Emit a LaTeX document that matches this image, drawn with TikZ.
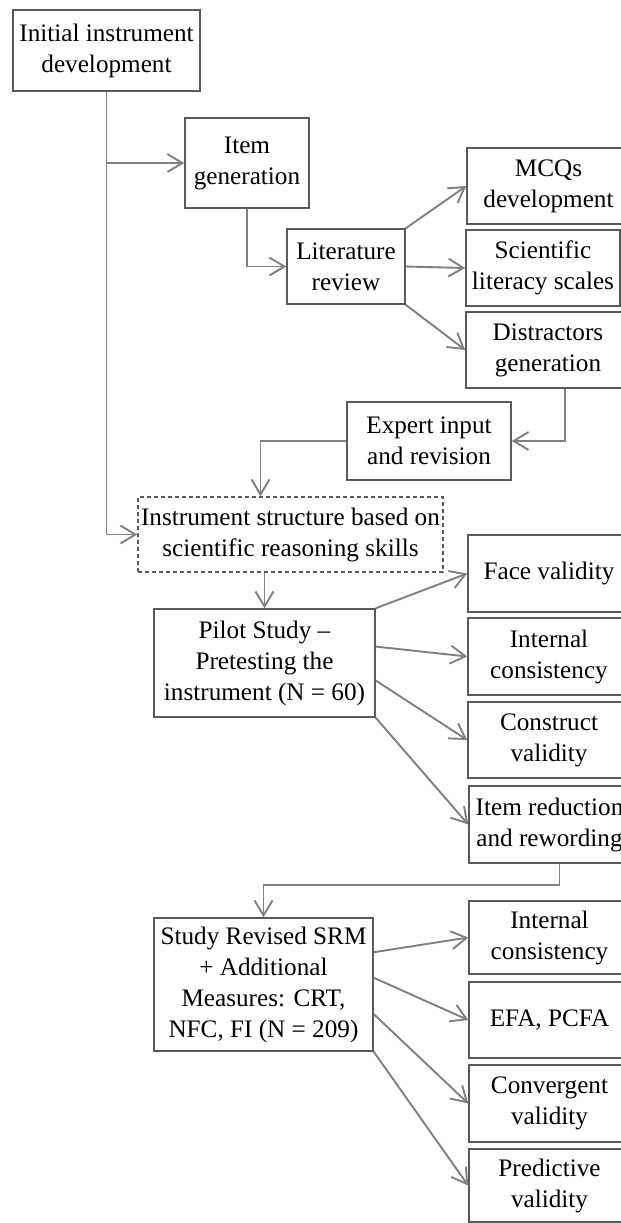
\documentclass[tikz,border=0pt]{standalone}
\usepackage{fontspec}
\setmainfont{Liberation Serif}
\usetikzlibrary{arrows.meta,calc}
\definecolor{boxgray}{HTML}{5A5A5A}
\definecolor{linegray}{HTML}{808080}
\tikzset{
  box/.style={draw=boxgray, line width=0.75pt, inner sep=0pt, align=center,
    font=\fontsize{12.6}{15.5}\selectfont},
  dashbox/.style={box, dash pattern=on 2pt off 1.5pt},
  link/.style={draw=linegray, line width=0.95pt, -{Straight Barb[length=7.5pt,width=9pt]}},
}

\begin{document}
\begin{tikzpicture}[x=0.5pt,y=-0.5pt]
\useasboundingbox (0,0) rectangle (621,1223);
%----------------development----------
\node[box, minimum width=93.5pt, minimum height=40.5pt] (init) at (106.5,50.5) {Initial instrument\\development};
\node[box, minimum width=62pt, minimum height=45pt] (item) at (247,163) {Item\\generation};
\node[box, minimum width=59pt, minimum height=37.5pt] (lit) at (346,266.5) {Literature\\review};
\node[box, minimum width=81.5pt, minimum height=38pt] (mcq) at (548.5,186) {MCQs\\development};
\node[box, minimum width=77pt, minimum height=38pt] (sci) at (543,268) {Scientific\\literacy scales};
\node[box, minimum width=82pt, minimum height=38pt] (dist) at (548,350) {Distractors\\generation};
\node[box, minimum width=82pt, minimum height=39pt] (exp) at (429,441) {Expert input\\and revision};
\node[dashbox, minimum width=152.5pt, minimum height=37.5pt] (struct) at (290.5,534.5) {Instrument structure based on\\scientific reasoning skills};
%----------------pilot----------
\node[box, minimum width=110.5pt, minimum height=54pt] (pilot) at (264.5,663) {Pilot Study --\\Pretesting the\\instrument (N = 60)};
\node[box, minimum width=81pt, minimum height=38.5pt] (face) at (549,573.5) {Face validity};
\node[box, minimum width=81pt, minimum height=38.5pt] (int) at (549,656.5) {Internal\\consistency};
\node[box, minimum width=81pt, minimum height=38pt] (cons) at (549,740) {Construct\\validity};
\node[box, minimum width=80.5pt, minimum height=38.5pt] (ired) at (549.5,824.5) {Item reduction\\and rewording};
%----------------main study----------
\node[box, minimum width=109.5pt, minimum height=66.5pt] (study) at (263.5,984.5) {Study Revised SRM\\+ Additional\\Measures: CRT,\\NFC, FI (N = 209)};
\node[box, minimum width=80.5pt, minimum height=36.5pt] (intb) at (549.5,937.5) {Internal\\consistency};
\node[box, minimum width=80.5pt, minimum height=38pt] (efa) at (549.5,1020) {EFA, PCFA};
\node[box, minimum width=80.5pt, minimum height=38.5pt] (conv) at (549.5,1103.5) {Convergent\\validity};
\node[box, minimum width=80.5pt, minimum height=36.5pt] (pred) at (549.5,1185.5) {Predictive\\validity};
%----------------connectors----------
\draw[link] (init.south) |- (struct.west);
\draw[link] (init.south |- item.west) -- (item.west);
\draw[link] (item.south) |- (lit.west);
\draw[link] (lit.north east) -- (mcq.west);
\draw[link] (lit.east) -- (sci.west);
\draw[link] (lit.south east) -- (dist.west);
\draw[link] ([xshift=8.5pt]dist.south) |- (exp.east);
\draw[link] (exp.west) -| ([xshift=-15pt]struct.north);
\draw[link] (struct.south -| pilot.north) -- (pilot.north);
\draw[link] (pilot.north east) -- (face.west);
\draw[link] ($(pilot.north east)!0.35!(pilot.south east)$) -- (int.west);
\draw[link] ($(pilot.north east)!0.66!(pilot.south east)$) -- (cons.west);
\draw[link] (pilot.south east) -- (ired.west);
\draw[link] ([xshift=5pt]ired.south) -- ++(0,21) -| (study.north);
\draw[link] ($(study.north east)!0.26!(study.south east)$) -- (intb.west);
\draw[link] ($(study.north east)!0.45!(study.south east)$) -- (efa.west);
\draw[link] ($(study.north east)!0.72!(study.south east)$) -- (conv.west);
\draw[link] (study.south east) -- (pred.west);
\end{tikzpicture}
\end{document}
